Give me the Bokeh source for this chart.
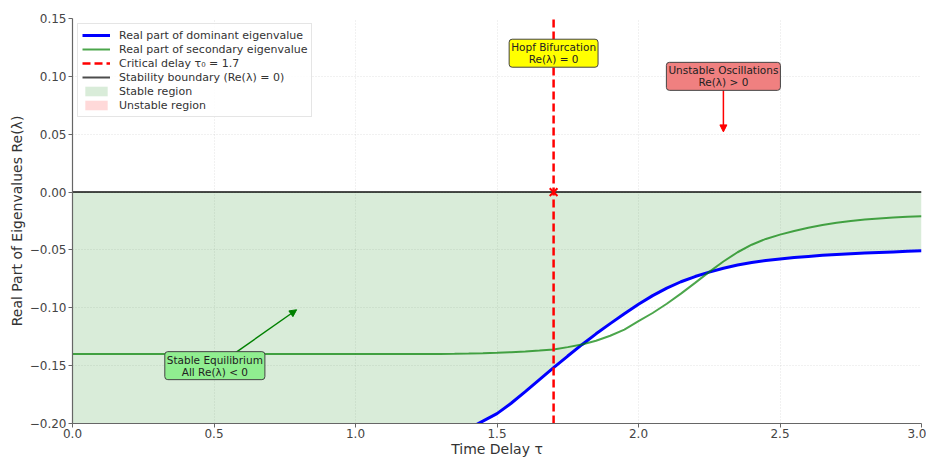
import numpy as np
from bokeh.plotting import figure
from bokeh.models import (Span, Legend, LegendItem, Label, Arrow, NormalHead,
                          FixedTicker, CustomJSTickFormatter, Range1d, ColumnDataSource)
from bokeh.embed import file_html
from bokeh.resources import INLINE

# ---- data ----
tau = [0.0, 0.1, 0.2, 0.3, 0.4, 0.5, 0.6, 0.7, 0.8, 0.9, 1.0, 1.1, 1.2,
       1.25, 1.3, 1.35, 1.4, 1.45, 1.5, 1.55, 1.6, 1.65, 1.7, 1.75, 1.8, 1.85, 1.9, 1.95,
       2.0, 2.05, 2.1, 2.15, 2.2, 2.25, 2.3, 2.35, 2.4, 2.45, 2.5, 2.55, 2.6, 2.65,
       2.7, 2.75, 2.8, 2.85, 2.9, 2.95, 3.0]
dominant = [-0.260, -0.260, -0.259, -0.258, -0.257, -0.255, -0.253, -0.250, -0.247, -0.243, -0.238, -0.234, -0.229,
            -0.224, -0.218, -0.2115, -0.2045, -0.198, -0.1915, -0.1825, -0.1725, -0.162, -0.1517, -0.1417,
            -0.1319, -0.1225, -0.1137, -0.1052,
            -0.0970, -0.0895, -0.0830, -0.0775, -0.0730, -0.0692, -0.0658, -0.0630, -0.0608, -0.0591, -0.0578,
            -0.0566, -0.0556, -0.0547, -0.0540, -0.0533, -0.0527, -0.0522, -0.0517, -0.0512, -0.0507]
secondary = [-0.1400, -0.1400, -0.1400, -0.1400, -0.1400, -0.1400, -0.1400, -0.1400, -0.1400, -0.1400, -0.1400, -0.1400, -0.1400,
             -0.1400, -0.1399, -0.1398, -0.1396, -0.1393, -0.1389, -0.1384, -0.1377, -0.1369, -0.1360, -0.1340,
             -0.1317, -0.1285, -0.1242, -0.1188,
             -0.1115, -0.1045, -0.0965, -0.0878, -0.0785, -0.0690, -0.0600, -0.0520, -0.0455, -0.0405, -0.0368,
             -0.0336, -0.0308, -0.0285, -0.0266, -0.0250, -0.0238, -0.0228, -0.0220, -0.0214, -0.0210]
tau0 = 1.7
x_ticks = [0.0, 0.5, 1.0, 1.5, 2.0, 2.5, 3.0]
y_ticks = [-0.20, -0.15, -0.10, -0.05, 0.00, 0.05, 0.10, 0.15]

legend_labels = ["Real part of dominant eigenvalue", "Real part of secondary eigenvalue",
                 "Critical delay \u03c4\u2080 = 1.7", "Stability boundary (Re(\u03bb) = 0)",
                 "Stable region", "Unstable region"]

hopf_text = "Hopf Bifurcation\nRe(\u03bb) = 0"
hopf_pos = (1.7, 0.12)
unstable_text = "Unstable Oscillations\nRe(\u03bb) > 0"
unstable_pos = (2.3, 0.10)
unstable_arrow = (2.3, 0.090, 2.3, 0.052)
stable_text = "Stable Equilibrium\nAll Re(\u03bb) < 0"
stable_pos = (0.503, -0.150)
stable_arrow = (0.565, -0.1407, 0.792, -0.1017)

FONT = "DejaVu Sans"

dom = np.array(dominant)
src = ColumnDataSource(dict(
    tau=tau, dom=dominant, sec=secondary,
    zero=[0.0] * len(tau),
    stable_low=np.minimum(dom, 0.0).tolist(),
    unstable_high=np.maximum(dom, 0.0).tolist(),
))

p = figure(width=926, height=459, output_backend="svg", toolbar_location=None,
           x_range=Range1d(tau[0], tau[-1]), y_range=Range1d(y_ticks[0], y_ticks[-1]),
           min_border_left=72, min_border_right=5, min_border_top=18, min_border_bottom=10)
p.outline_line_color = None
p.background_fill_color = "white"

# fills
stable_r = p.varea(x="tau", y1="stable_low", y2="zero", source=src,
                   fill_color="green", fill_alpha=0.15)
unstable_r = p.varea(x="tau", y1="zero", y2="unstable_high", source=src,
                     fill_color="red", fill_alpha=0.15)

# horizontal stability boundary
boundary_r = p.line(x="tau", y="zero", source=src, line_color="black", line_alpha=0.7, line_width=2)

# curves
dom_r = p.line(x="tau", y="dom", source=src, line_color="blue", line_width=3)
sec_r = p.line(x="tau", y="sec", source=src, line_color="green", line_alpha=0.7, line_width=2)

# critical delay
crit_r = p.line(x=[tau0, tau0], y=[y_ticks[0], y_ticks[-1]], line_color="red",
                line_width=2.5, line_dash="8 4")
p.scatter(x=[tau0], y=[0.0], marker="x", size=11, line_color="red", line_width=2)

# axes
p.xaxis.ticker = FixedTicker(ticks=x_ticks)
p.yaxis.ticker = FixedTicker(ticks=y_ticks)
p.xaxis.formatter = CustomJSTickFormatter(code="return tick.toFixed(1);")
p.yaxis.formatter = CustomJSTickFormatter(code="return tick.toFixed(2).replace('-', '\\u2212');")
for ax in (p.xaxis, p.yaxis):
    ax.axis_line_color = "#666666"
    ax.axis_line_width = 1.2
    ax.major_tick_line_color = "#666666"
    ax.major_tick_out = 4
    ax.major_tick_in = 0
    ax.minor_tick_line_color = None
    ax.major_label_text_font = FONT
    ax.major_label_text_font_size = "12px"
    ax.major_label_text_color = "#444444"
    ax.major_label_standoff = 2
    ax.axis_label_text_font = FONT
    ax.axis_label_text_font_size = "14px"
    ax.axis_label_text_font_style = "normal"
    ax.axis_label_text_color = "#333333"
    ax.axis_label_standoff = 2
p.xaxis.major_label_standoff = 1
p.xaxis.axis_label_standoff = 0
p.xaxis.axis_label = "Time Delay \u03c4"
p.yaxis.axis_label = "Real Part of Eigenvalues Re(\u03bb)"

p.xgrid.ticker = FixedTicker(ticks=x_ticks)
p.ygrid.ticker = FixedTicker(ticks=y_ticks)
for g in (p.xgrid, p.ygrid):
    g.grid_line_color = "#b0b0b0"
    g.grid_line_alpha = 0.35
    g.grid_line_dash = "1 2"

# annotations
def box(text, pos, color):
    return Label(x=pos[0], y=pos[1], text=text, text_align="center", text_baseline="middle",
                 text_font=FONT, text_font_size="10.5px", text_color="#222222",
                 text_line_height=1.0,
                 background_fill_color=color, background_fill_alpha=1.0,
                 border_line_color="#444444", border_line_width=1,
                 border_radius=3, padding=2)

p.add_layout(Arrow(end=NormalHead(size=7, fill_color="red", line_color="red"),
                   x_start=unstable_arrow[0], y_start=unstable_arrow[1],
                   x_end=unstable_arrow[2], y_end=unstable_arrow[3],
                   line_color="red", line_width=1.5))
p.add_layout(Arrow(end=NormalHead(size=7, fill_color="green", line_color="green"),
                   x_start=stable_arrow[0], y_start=stable_arrow[1],
                   x_end=stable_arrow[2], y_end=stable_arrow[3],
                   line_color="green", line_width=1.5))
p.add_layout(box(hopf_text, hopf_pos, "yellow"))
p.add_layout(box(unstable_text, unstable_pos, "lightcoral"))
p.add_layout(box(stable_text, stable_pos, "lightgreen"))

legend = Legend(items=[
    LegendItem(label=legend_labels[0], renderers=[dom_r]),
    LegendItem(label=legend_labels[1], renderers=[sec_r]),
    LegendItem(label=legend_labels[2], renderers=[crit_r]),
    LegendItem(label=legend_labels[3], renderers=[boundary_r]),
    LegendItem(label=legend_labels[4], renderers=[stable_r]),
    LegendItem(label=legend_labels[5], renderers=[unstable_r]),
], location="top_left")
legend.margin = 5
legend.padding = 4
legend.spacing = 0
legend.label_height = 14
legend.glyph_height = 12
legend.glyph_width = 28
legend.label_standoff = 9
legend.label_text_font = FONT
legend.label_text_font_size = "11px"
legend.label_text_color = "#333333"
legend.border_line_color = "#cccccc"
legend.background_fill_alpha = 0.85
p.add_layout(legend)

open("out.html", "w").write(file_html(p, INLINE))
